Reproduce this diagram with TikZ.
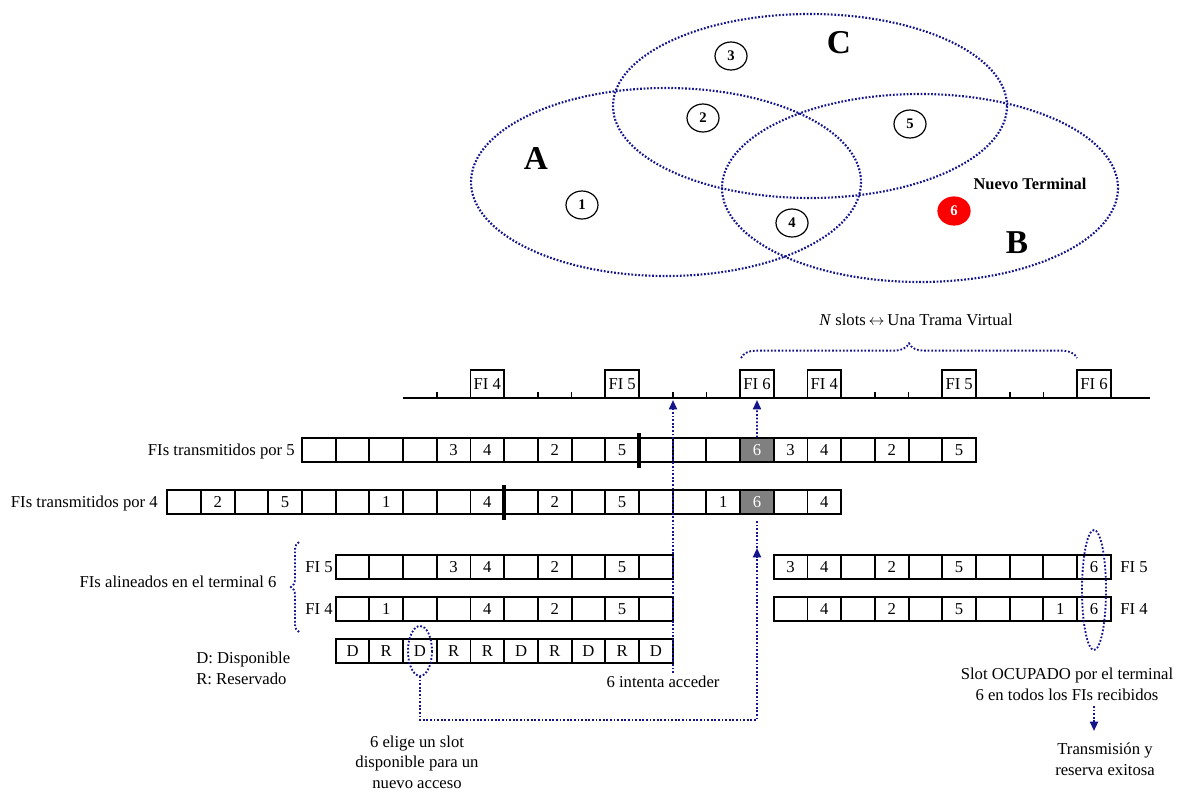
\documentclass[tikz,border=0pt]{standalone}
\usepackage{fontspec}
\setmainfont{Liberation Serif}
\usetikzlibrary{shapes.geometric,arrows.meta,decorations.pathreplacing}

\definecolor{navy}{RGB}{20,20,140}
\definecolor{slotgray}{RGB}{128,128,128}
\definecolor{termred}{RGB}{250,0,0}

\tikzset{
  txt/.style = {inner sep=0pt, font=\fontsize{12.5}{15.5}\selectfont},
  slot/.style = {draw=black, line width=1.4pt, minimum width=25.3pt, minimum height=17.5pt,
                 inner sep=0pt, font=\fontsize{12.5}{14}\selectfont},
  busy/.style = {slot, fill=slotgray, text=white},
  fibox/.style = {slot, minimum height=21pt},
  station/.style = {ellipse, draw=black, line width=0.9pt, minimum width=24pt, minimum height=21pt,
                    inner sep=0pt, font=\bfseries\fontsize{11}{11}\selectfont},
  area/.style = {inner sep=0pt, font=\bfseries\fontsize{25}{25}\selectfont},
  zone/.style = {draw=navy, line width=1.6pt, dash pattern=on 1.3pt off 1.3pt},
  link/.style = {draw=navy, line width=1.4pt, dash pattern=on 1.3pt off 1.4pt},
  ptr/.style = {link, -{Triangle[width=6pt,length=7pt,fill=navy]}},
  guardbar/.style = {line width=3pt}
}

\begin{document}
\begin{tikzpicture}[x=0.75pt, y=-0.75pt]
\useasboundingbox (0,0) rectangle (1184,793);

% coverage zones and terminals
\draw[zone] (666,182) ellipse [x radius=195, y radius=94];
\draw[zone] (810,106) ellipse [x radius=197, y radius=92];
\draw[zone] (920,188) ellipse [x radius=198, y radius=94];
\node[area] (zA) at (536,158) {A};
\node[area] (zB) at (1017,243) {B};
\node[area] (zC) at (839,43) {C};
\node[station] (s1) at (582,205) {1};
\node[station] (s2) at (703,118) {2};
\node[station] (s3) at (731,56) {3};
\node[station] (s4) at (792,223) {4};
\node[station] (s5) at (910,124) {5};
\node[station, fill=termred, draw=termred, text=white] (s6) at (954,211) {6};
\node[inner sep=0pt, font=\bfseries\fontsize{12.3}{12}\selectfont] (nuevo) at (1030,184) {Nuevo Terminal};

% time axis with the FI slots
\draw[line width=1.4pt] (403,398) -- (1150,398);
\foreach \k in {4,7,8,11,12,17,18,21,22}
  \draw[line width=1.2pt] ({302+33.7*\k},398) -- ++(0,-6);
\foreach \k/\t in {5/FI 4, 9/FI 5, 13/FI 6, 15/FI 4, 19/FI 5, 23/FI 6}
  \node[fibox] (f\k) at ({302+33.7*(\k+0.5)},384) {\t};
\coordinate (ax11) at (673,400);
\coordinate (ax13) at (757,400);
\draw[link, decorate, decoration={brace, amplitude=11pt}] (741,358) -- (1077,358);
\node[txt] (trama) at (916,320) {\textit{N} slots\,$\leftrightarrow$\,Una Trama Virtual};

% FIs sent by 5 and by 4
\node[txt, anchor=east] (lab5) at (295,451) {FIs transmitidos por 5};
\foreach \v [count=\i from 0] in {,,,,3,4,,2,,5,,,,,3,4,,2,,5}
  \node[slot] (p5-\i) at ({302+33.7*(\i+0.5)},450) {\v};
\node[busy] (p5-six) at (p5-13) {6};
\draw[guardbar] (639,433) -- (639,468);

\node[txt, anchor=east] (lab4) at (158,503) {FIs transmitidos por 4};
\foreach \v [count=\i from 0] in {,2,,5,,,1,,,4,,2,,5,,,1,,,4}
  \node[slot] (p4-\i) at ({302+33.7*(\i-3.5)},502) {\v};
\node[busy] (p4-six) at (p4-17) {6};
\draw[guardbar] (504,485) -- (504,520);

% FIs as seen by terminal 6
\node[txt] (alin) at (178,582) {FIs alineados en el terminal 6};
\draw[link, decorate, decoration={brace, amplitude=6pt}] (299,632) -- (299,542);
\node[txt, anchor=east] (l5) at (333,567) {FI 5};
\node[txt, anchor=east] (l4) at (333,609) {FI 4};
\foreach \v [count=\i from 1] in {,,,3,4,,2,,5,}
  \node[slot] (a5-\i) at ({302+33.7*(\i+0.5)},567) {\v};
\foreach \v [count=\i from 1] in {,1,,,4,,2,,5,}
  \node[slot] (a4-\i) at ({302+33.7*(\i+0.5)},609) {\v};
\foreach \v [count=\i from 1] in {D,R,D,R,R,D,R,D,R,D}
  \node[slot] (dr-\i) at ({302+33.7*(\i+0.5)},651) {\v};
\node[txt, anchor=north west, align=left] (leyenda) at (196,652) {D: Disponible\\R: Reservado};

\foreach \v [count=\i from 14] in {3,4,,2,,5,,,,6}
  \node[slot] (b5-\i) at ({302+33.7*(\i+0.5)},567) {\v};
\foreach \v [count=\i from 14] in {,4,,2,,5,,,1,6}
  \node[slot] (b4-\i) at ({302+33.7*(\i+0.5)},609) {\v};
\node[txt, anchor=west] (r5) at (1120,567) {FI 5};
\node[txt, anchor=west] (r4) at (1120,609) {FI 4};

% access attempt and choice of a free slot
\node[txt] (intenta) at (663,682) {6 intenta acceder};
\coordinate (try) at (673,673);
\draw[ptr] (try) -- (ax11);
\draw[link] (420,651) ellipse [x radius=12, y radius=25];
\coordinate (elige) at (420,676);
\coordinate (up6) at (757,548);
\draw[ptr] (elige) -- (420,720) -| (up6);
\draw[link] (up6) -- (757,520);
\draw[ptr] (p5-six.north) -- (ax13);
\node[txt, align=center] (nota) at (417,762) {6 elige un slot\\disponible para un\\nuevo acceso};

% slot taken in every received FI
\draw[link] (1094,590) ellipse [x radius=12, y radius=60];
\node[txt, align=center] (ocupado) at (1067,684) {Slot OCUPADO por el terminal\\6 en todos los FIs recibidos};
\coordinate (ok) at (1094,706);
\node[txt, align=center] (exito) at (1105,759) {Transmisión y\\reserva exitosa};
\draw[ptr] (ok) -- (1094,731);
\end{tikzpicture}
\end{document}
